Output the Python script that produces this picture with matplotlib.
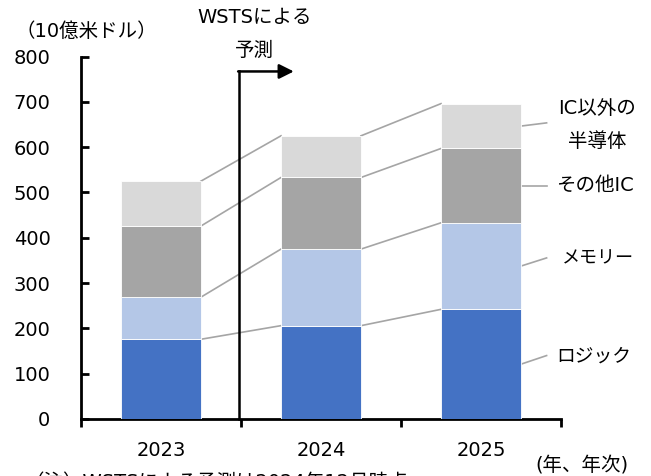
import numpy as np
import matplotlib
matplotlib.use("Agg")
import matplotlib.pyplot as plt

plt.rcParams['font.family'] = ['DejaVu Sans', 'Noto Sans CJK JP']

# データ（10億米ドル）
years = ['2023', '2024', '2025']
logic = [176, 206, 242]
memory = [93, 169, 191]
other_ic = [157, 158, 164]
non_ic = [99, 92, 99]

series = [logic, memory, other_ic, non_ic]
series_names = ['ロジック', 'メモリー', 'その他IC', 'IC以外の\n半導体']
colors = ['#4472C4', '#B4C7E7', '#A5A5A5', '#D9D9D9']

fig = plt.figure(figsize=(6.51, 4.76), dpi=100)
ax = fig.add_axes([81 / 651, 57 / 476, 480 / 651, 362.5 / 476])

x = np.arange(len(years))
w = 0.5
bottom = np.zeros(len(years))
tops = []
for vals, c in zip(series, colors):
    vals = np.array(vals)
    ax.bar(x, vals, w, bottom=bottom, color=c, edgecolor='white', linewidth=0.6, zorder=3)
    bottom = bottom + vals
    tops.append(bottom.copy())

# 棒の間の接続線
for top in tops:
    for i in range(len(years) - 1):
        ax.plot([x[i] + w / 2, x[i + 1] - w / 2], [top[i], top[i + 1]],
                color='#A5A5A5', lw=1.2, zorder=2)

# 右側の系列ラベル（ロジック, メモリー, その他IC, IC以外）
last = len(years) - 1
base = 0
leader_dy = [19, 18, 0, 7]
label_dy = [17, 17, 0, 3]
label_dx = [0.455, 0.48, 0.46, 0.475]
label_size = [13.5, 13, 14, 14]
for vals, name, ldy, tdy, tdx, fs in zip(series, series_names, leader_dy,
                                         label_dy, label_dx, label_size):
    mid = base + vals[last] / 2
    base += vals[last]
    x0 = x[last] + w / 2
    ax.plot([x0, x0 + 0.16], [mid, mid + ldy], color='#A5A5A5', lw=1.2,
            clip_on=False)
    ax.text(x0 + tdx, mid + tdy, name, ha='center', va='center',
            fontsize=fs, linespacing=1.95, clip_on=False)

ax.set_xlim(-0.5, 2.5)
ax.set_ylim(0, 800)
ax.set_yticks(np.arange(0, 801, 100))
ax.tick_params(axis='y', direction='in', length=6, width=2, labelsize=14, pad=22)

ax.set_xticks([-0.5, 0.5, 1.5, 2.5])
ax.set_xticklabels([])
ax.tick_params(axis='x', which='major', direction='out', length=6, width=2)
ax.set_xticks(x, minor=True)
ax.set_xticklabels(years, minor=True)
ax.tick_params(axis='x', which='minor', length=0, labelsize=14, pad=16)

for s in ['top', 'right']:
    ax.spines[s].set_visible(False)
for s in ['left', 'bottom']:
    ax.spines[s].set_linewidth(2)

# 予測区分の矢印
ax.plot([0.49, 0.49], [0, 767], color='black', lw=1.8, clip_on=False, zorder=4)
ax.annotate('', xy=(0.83, 767), xytext=(0.482, 767),
            arrowprops=dict(arrowstyle='-|>', color='black', lw=1.8,
                            mutation_scale=22, shrinkA=0, shrinkB=0),
            annotation_clip=False)
fig.text(255 / 651, 1 - 18 / 476, 'WSTSによる', ha='center', va='center', fontsize=14)
fig.text(254 / 651, 1 - 50 / 476, '予測', ha='center', va='center', fontsize=14)

fig.text(86 / 651, 1 - 31 / 476, '（10億米ドル）', ha='center', va='center', fontsize=14)
fig.text(582 / 651, 1 - 465 / 476, '(年、年次)', ha='center', va='center', fontsize=14)
fig.text(25 / 651, 1 - 473 / 476, '（注）WSTSによる予測は2024年12月時点', ha='left',
         va='top', fontsize=14)

fig.savefig('out.png', dpi=100)
